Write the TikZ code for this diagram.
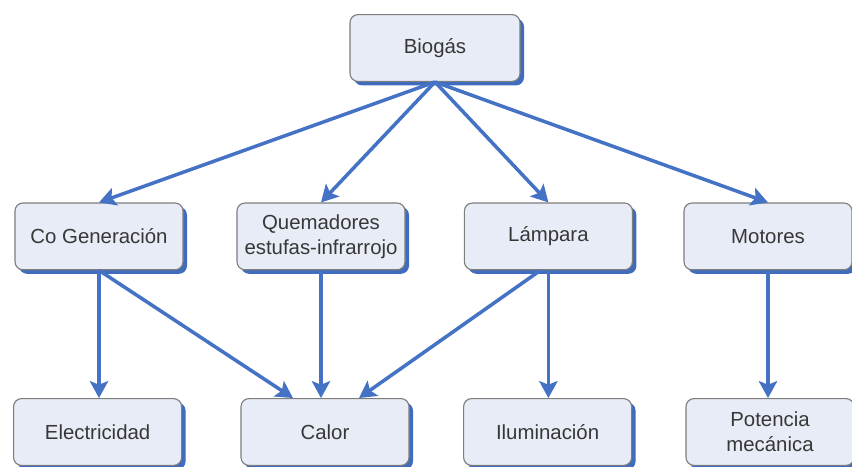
\documentclass[tikz,border=0pt]{standalone}
\usepackage{fontspec}
\setmainfont{Liberation Sans}
\usepackage{tikz}
\usetikzlibrary{arrows.meta}
\usetikzlibrary{shadows}
\definecolor{fondbleu}{RGB}{232,236,246}
\definecolor{bord}{RGB}{125,125,125}
\definecolor{ombre}{RGB}{63,108,190}
\definecolor{fleche}{RGB}{68,114,196}
\definecolor{texte}{RGB}{55,55,55}

\begin{document}
\begin{tikzpicture}
	% STYLES
	\tikzstyle{boite} = [draw=bord, line width=0.8pt, fill=fondbleu, rounded corners=0.2cm,
		minimum width=4.2cm, minimum height=1.67cm, align=center, text=texte,
		font=\fontsize{14.5}{18}\selectfont,
		drop shadow={shadow xshift=0.1cm, shadow yshift=-0.1cm, fill=ombre, opacity=1}]
	\tikzstyle{lien} = [draw=fleche, line width=2.5pt, -{Stealth[length=12pt,width=13pt,inset=2.5pt]}]

	\useasboundingbox (0, 0) rectangle (21.3, 11.65);

	% HAUT
	\node[boite, minimum width=4.25cm] (biogas) at (10.875, 10.45) {Biogás};

	% USAGES
	\node[boite] (cogen) at (2.475, 5.74) {Co Generación};
	\node[boite] (quem) at (8.025, 5.74) {Quemadores\\estufas-infrarrojo};
	\node[boite] (lamp) at (13.71, 5.74) {Lámpara};
	\node[boite] (mot) at (19.2, 5.74) {Motores};

	% PRODUITS
	\node[boite] (elec) at (2.44, 0.85) {Electricidad};
	\node[boite] (calor) at (8.125, 0.85) {Calor};
	\node[boite] (ilum) at (13.69, 0.85) {Iluminación};
	\node[boite] (pot) at (19.25, 0.85) {Potencia\\mecánica};

	% FLECHES
	\draw[lien] (biogas.south) -- (cogen.north);
	\draw[lien] (biogas.south) -- (quem.north);
	\draw[lien] (biogas.south) -- (lamp.north);
	\draw[lien] (biogas.south) -- (mot.north);

	\draw[lien] (cogen.south) -- (cogen.south |- elec.north);
	\draw[lien] (cogen.south) -- ([xshift=-0.8cm]calor.north);
	\draw[lien] (quem.south) -- (quem.south |- calor.north);
	\draw[lien] ([xshift=-0.2cm]lamp.south) -- ([xshift=0.85cm]calor.north);
	\draw[lien] (lamp.south) -- (lamp.south |- ilum.north);
	\draw[lien] (mot.south) -- (mot.south |- pot.north);
\end{tikzpicture}
\end{document}
